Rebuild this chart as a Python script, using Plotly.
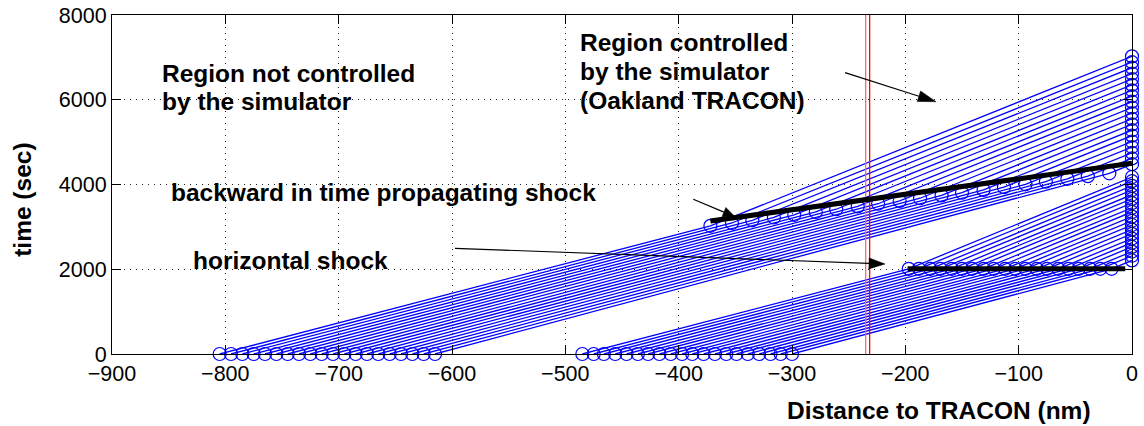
import math
import plotly.graph_objects as go

# ---- flow A: aircraft leaving the far sector at t = 0 ----
a_start_x = [-805, -795, -785, -775, -765, -755, -745, -735, -725, -715,
             -705, -695, -685, -675, -665, -655, -645, -635, -625, -615]
a_shock_x = [-372, -353, -335, -316, -298, -279, -261, -242, -224, -205,
             -187, -168, -150, -131, -113, -94, -76, -57, -39, -20]
a_shock_t = [3025, 3092, 3155, 3222, 3285, 3352, 3416, 3483, 3546, 3613,
             3676, 3743, 3806, 3873, 3937, 4004, 4067, 4134, 4197, 4264]
a_arrive_t = [7024, 6887, 6756, 6619, 6489, 6351, 6222, 6085, 5954, 5817,
              5686, 5549, 5419, 5281, 5152, 5015, 4884, 4747, 4616, 4479]

# ---- flow B: aircraft closer to the TRACON at t = 0 ----
b_start_x = [-485, -475, -466, -456, -446, -436, -427, -417, -407, -397,
             -388, -378, -368, -358, -349, -339, -329, -319, -310, -300]
b_shock_x = [-197, -188, -178, -169, -159, -150, -141, -131, -122, -112,
             -103, -94, -84, -75, -65, -56, -47, -37, -28, -18]
b_shock_t = [2010, 2010, 2010, 2010, 2010, 2010, 2010, 2010, 2010, 2010,
             2010, 2010, 2010, 2010, 2010, 2010, 2010, 2010, 2010, 2010]
b_arrive_t = [4177, 4078, 3968, 3869, 3759, 3660, 3561, 3451, 3352, 3242,
              3143, 3044, 2934, 2835, 2725, 2626, 2527, 2417, 2318, 2208]

# ---- shocks and sector boundary ----
back_shock_x = [-372, 0]
back_shock_t = [3140, 4500]
horiz_shock_x = [-198, -6]
horiz_shock_t = [2010, 2010]
boundary_x = [-235, -231.5]
boundary_colors = ["#ff6a6a", "#ff0000"]

x_ticks = [-900, -800, -700, -600, -500, -400, -300, -200, -100, 0]
y_ticks = [0, 2000, 4000, 6000, 8000]

XR = [-900, 0]
YR = [0, 8000]
L, R, T, B = 112, 12, 15, 72
W_FIG, H_FIG = 1144, 426
PW, PH = W_FIG - L - R, H_FIG - T - B

FONT = "Liberation Sans, Arial, Helvetica, sans-serif"
BLUE = "#0000ff"


def to_px(x, t):
    return (L + (x - XR[0]) / (XR[1] - XR[0]) * PW,
            T + (YR[1] - t) / (YR[1] - YR[0]) * PH)


def to_data(px, py):
    return (XR[0] + (px - L) / PW * (XR[1] - XR[0]),
            YR[1] - (py - T) / PH * (YR[1] - YR[0]))


fig = go.Figure()

# trajectories: start -> shock -> TRACON boundary
traj_x, traj_y = [], []
for sx, kx, kt, at in zip(a_start_x + b_start_x, a_shock_x + b_shock_x,
                          a_shock_t + b_shock_t, a_arrive_t + b_arrive_t):
    traj_x += [sx, kx, 0, None]
    traj_y += [0, kt, at, None]
fig.add_trace(go.Scatter(x=traj_x, y=traj_y, mode="lines",
                         line=dict(color=BLUE, width=1.3), hoverinfo="skip",
                         showlegend=False))

# circle markers at start, shock and arrival
circ_x = a_start_x + b_start_x + a_shock_x + b_shock_x + [0] * 40
circ_y = ([0] * 40 + a_shock_t + b_shock_t + a_arrive_t + b_arrive_t)
fig.add_trace(go.Scatter(x=circ_x, y=circ_y, mode="markers",
                         marker=dict(symbol="circle-open", size=13,
                                     color=BLUE, line=dict(width=1.2, color=BLUE)),
                         cliponaxis=False, hoverinfo="skip", showlegend=False))

# sector boundary (red vertical lines)
for bx, bc in zip(boundary_x, boundary_colors):
    fig.add_trace(go.Scatter(x=[bx, bx], y=YR, mode="lines",
                             line=dict(color=bc, width=1.3),
                             hoverinfo="skip", showlegend=False))

# shock lines
for sx, st in ((back_shock_x, back_shock_t), (horiz_shock_x, horiz_shock_t)):
    fig.add_trace(go.Scatter(x=sx, y=st, mode="lines",
                             line=dict(color="black", width=5),
                             hoverinfo="skip", showlegend=False))

# arrows with filled heads
arrows = [
    ((-253.2, 6639), (-172.9, 5954), 18, 5.5),
    ((-387.1, 3651), (-350.3, 3240), 12, 5.0),
    ((-597.4, 2494), (-217.9, 2124), 16, 5.5),
]
shapes = []
for (x1, t1), (x2, t2), hl, hw in arrows:
    p1 = to_px(x1, t1)
    p2 = to_px(x2, t2)
    dx, dy = p2[0] - p1[0], p2[1] - p1[1]
    n = math.hypot(dx, dy)
    ux, uy = dx / n, dy / n
    bx, by = p2[0] - ux * hl, p2[1] - uy * hl
    base = to_data(bx, by)
    left = to_data(bx - uy * hw, by + ux * hw)
    right = to_data(bx + uy * hw, by - ux * hw)
    shapes.append(dict(type="line", xref="x", yref="y", x0=x1, y0=t1,
                       x1=base[0], y1=base[1],
                       line=dict(color="black", width=1.2), layer="above"))
    shapes.append(dict(type="path", xref="x", yref="y",
                       path=f"M {x2},{t2} L {left[0]},{left[1]} "
                            f"L {right[0]},{right[1]} Z",
                       fillcolor="black", line=dict(color="black", width=0.5),
                       layer="above"))

TXT = dict(family=FONT, size=24.5, color="black", weight="bold")
labels = [
    ("Region not controlled", -856.8, 6622),
    ("by the simulator", -856.8, 5954),
    ("Region controlled", -487.7, 7353),
    ("by the simulator", -487.7, 6662),
    ("(Oakland TRACON)", -487.7, 5994),
    ("backward in time propagating shock", -848.8, 3814),
    ("horizontal shock", -829.7, 2195),
]
annotations = [dict(text=s, x=x, y=y, xref="x", yref="y", xanchor="left",
                    yanchor="middle", showarrow=False, font=TXT,
                    borderpad=0)
               for s, x, y in labels]
annotations.append(dict(text="Distance to TRACON (nm)", x=0.8108, y=-0.1667,
                        xref="paper", yref="paper", xanchor="center",
                        yanchor="middle", showarrow=False, font=TXT))
annotations.append(dict(text="time (sec)", x=-0.0885, y=0.454,
                        xref="paper", yref="paper", xanchor="center",
                        yanchor="middle", showarrow=False, font=TXT,
                        textangle=-90))

axis_common = dict(showline=True, linecolor="black", linewidth=1,
                   mirror="ticks", ticks="inside", ticklen=9,
                   tickcolor="black", tickwidth=1, zeroline=False,
                   showgrid=True, gridcolor="#222222", gridwidth=1,
                   griddash="1px,5px", automargin=False,
                   tickfont=dict(family=FONT, size=21.5, color="black"))

fig.update_layout(
    width=W_FIG, height=H_FIG,
    margin=dict(l=L, r=R, t=T, b=B, pad=0, autoexpand=False),
    paper_bgcolor="white", plot_bgcolor="white",
    xaxis=dict(range=XR, tickvals=x_ticks, ticklabelstandoff=0,
               **axis_common),
    yaxis=dict(range=YR, tickvals=y_ticks, **axis_common),
    shapes=shapes, annotations=annotations, showlegend=False,
)

fig.write_html("out.html")
